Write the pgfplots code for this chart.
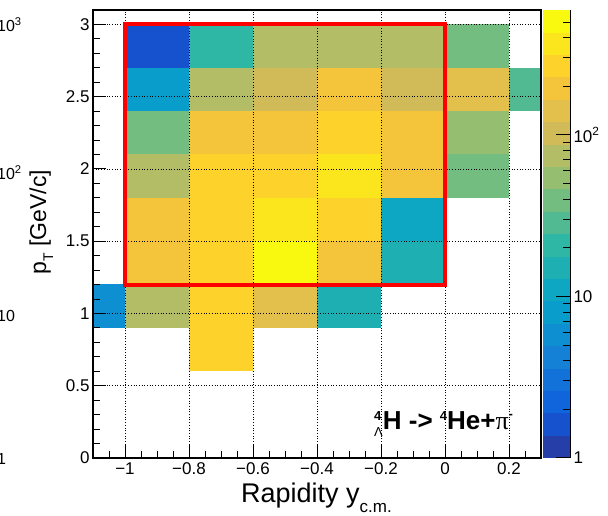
\documentclass[border=0pt]{standalone}
\usepackage{fontspec}
\setmainfont{Liberation Sans}
\newfontfamily\serifpi{Liberation Serif}
\usepackage{pgfplots}
\usepackage{pgfplotstable}
\pgfplotsset{compat=1.18}

\pgfdeclareplotmark{hcell}{\pgfpathrectangle{\pgfpoint{-32.2pt}{-21.85pt}}{\pgfpoint{64.4pt}{43.7pt}}\pgfusepathqfill}
\pgfdeclareplotmark{cbcell}{\pgfpathrectangle{\pgfpoint{-13.5pt}{-11.35pt}}{\pgfpoint{27pt}{22.7pt}}\pgfusepathqfill}

\pgfplotsset{
  colormap={bird20}{
    rgb=(0.1505,0.2413,0.6606)
    rgb=(0.0880,0.3225,0.8028)
    rgb=(0.0633,0.3914,0.8619)
    rgb=(0.0704,0.4455,0.8506)
    rgb=(0.0780,0.5041,0.8385)
    rgb=(0.0557,0.5601,0.8194)
    rgb=(0.0335,0.6161,0.8002)
    rgb=(0.0526,0.6561,0.7635)
    rgb=(0.1164,0.6870,0.7030)
    rgb=(0.1802,0.7178,0.6425)
    rgb=(0.3223,0.7306,0.5709)
    rgb=(0.4536,0.7423,0.5048)
    rgb=(0.5842,0.7461,0.4444)
    rgb=(0.7014,0.7395,0.3971)
    rgb=(0.8186,0.7328,0.3499)
    rgb=(0.8850,0.7528,0.2925)
    rgb=(0.9569,0.7745,0.2303)
    rgb=(0.9920,0.8231,0.1700)
    rgb=(0.9842,0.9032,0.1120)
    rgb=(0.9770,0.9770,0.0584)
  }
}

% bin centres (x: rapidity, y: pT) and bin contents
\pgfplotstableread{
x y z
-0.9 2.85 1.6
-0.7 2.85 21
-0.5 2.85 75
-0.3 2.85 75
-0.1 2.85 75
0.1 2.85 39
-0.9 2.55 8.0
-0.7 2.55 75
-0.5 2.55 103
-0.3 2.55 194
-0.1 2.55 103
0.1 2.55 141
0.3 2.55 29
-0.9 2.25 39
-0.7 2.25 194
-0.5 2.25 194
-0.3 2.25 267
-0.1 2.25 194
0.1 2.25 54
-0.9 1.95 75
-0.7 1.95 267
-0.5 1.95 267
-0.3 1.95 368
-0.1 1.95 194
0.1 1.95 39
-0.9 1.65 194
-0.7 1.65 267
-0.5 1.65 368
-0.3 1.65 267
-0.1 1.65 11
-0.9 1.35 194
-0.7 1.35 267
-0.5 1.35 506
-0.3 1.35 194
-0.1 1.35 15
-1.1 1.05 5.8
-0.9 1.05 75
-0.7 1.05 267
-0.5 1.05 141
-0.3 1.05 15
-0.7 0.75 267
}\histdata

% colour bar: 20 log-spaced contour bands between 1 and about 594
\pgfplotstableread{
b y
0 0.5
1 1.5
2 2.5
3 3.5
4 4.5
5 5.5
6 6.5
7 7.5
8 8.5
9 9.5
10 10.5
11 11.5
12 12.5
13 13.5
14 14.5
15 15.5
16 16.5
17 17.5
18 18.5
19 19.5
}\cbdata

\begin{document}
\begin{tikzpicture}
\useasboundingbox (0,0) rectangle (608pt,516pt);

\begin{axis}[
  at={(93pt,58pt)}, anchor=south west,
  scale only axis, width=448pt, height=448pt,
  xmin=-1.1, xmax=0.3, ymin=0, ymax=3.1,
  axis on top,
  clip marker paths=true,
  xtick={-1,-0.8,-0.6,-0.4,-0.2,0,0.2},
  xticklabels={−1,−0.8,−0.6,−0.4,−0.2,0,0.2},
  ytick={0,0.5,1,1.5,2,2.5,3},
  yticklabels={0,0.5,1,1.5,2,2.5,3},
  minor xtick={-1.05,-0.95,-0.9,-0.85,-0.75,-0.7,-0.65,-0.55,-0.5,-0.45,-0.35,-0.3,-0.25,-0.15,-0.1,-0.05,0.05,0.1,0.15,0.25},
  minor ytick={0.1,0.2,0.3,0.4,0.6,0.7,0.8,0.9,1.1,1.2,1.3,1.4,1.6,1.7,1.8,1.9,2.1,2.2,2.3,2.4,2.6,2.7,2.8,2.9},
  tickpos=left, tick align=inside,
  major tick length=13pt, minor tick length=6.5pt,
  tick style={black, line width=1pt},
  xmajorgrids, ymajorgrids,
  major grid style={black, line width=0.55pt, dash pattern=on 0.7pt off 2pt},
  axis line style={black, line width=1.6pt},
  ticklabel style={font=\fontsize{17}{17}\selectfont},
  xticklabel style={yshift=-1pt},
  colormap name=bird20,
  point meta min=0, point meta max=19,
]
\addplot[scatter, only marks, mark=hcell,
  scatter/use mapped color={draw=none, fill=mapped color},
  point meta={floor(log10(\thisrow{z})/0.138690)}]
  table[x=x, y=y] {\histdata};
\end{axis}

% red selection box
\begin{axis}[
  at={(93pt,58pt)}, anchor=south west,
  scale only axis, width=448pt, height=448pt,
  xmin=-1.1, xmax=0.3, ymin=0, ymax=3.1,
  hide axis,
]
\addplot[red, line width=4pt, line join=miter, mark=none]
  coordinates {(-1,1.2) (0,1.2) (0,3) (-1,3)} -- cycle;
\end{axis}

% colour bar
\begin{axis}[
  at={(543pt,58pt)}, anchor=south west,
  scale only axis, width=27pt, height=448pt,
  xmin=0, xmax=1, ymin=0, ymax=20,
  axis x line=none, axis y line*=right,
  axis on top, clip marker paths=true,
  ytick={0,7.2102,14.4204},
  yticklabels={1,10,10\textsuperscript{2}},
  minor ytick={2.1705,3.4402,4.3410,5.0398,5.6107,6.0934,6.5116,6.8804,9.3807,10.6504,11.5512,12.2500,12.8209,13.3036,13.7218,14.0906,16.5909,17.8606,18.7614,19.4602},
  ytick align=inside,
  major tick length=14pt, minor tick length=7pt,
  tick style={black, line width=1pt},
  axis line style={black, line width=1pt},
  ticklabel style={font=\fontsize{17}{17}\selectfont},
  colormap name=bird20,
  point meta min=0, point meta max=19,
]
\addplot[scatter, only marks, mark=cbcell,
  scatter/use mapped color={draw=none, fill=mapped color},
  point meta=explicit]
  table[x expr=0.5, y=y, meta=b] {\cbdata};
\end{axis}

% axis titles
\node[anchor=base west, inner sep=0, font=\fontsize{27}{27}\selectfont] at (241pt,13pt)
  {Rapidity y\raisebox{-10pt}{\fontsize{17}{17}\selectfont c.m.}};
\node[rotate=90, anchor=base, inner sep=0, font=\fontsize{23}{23}\selectfont] at (46pt,294pt)
  {p\raisebox{-7pt}{\fontsize{14}{14}\selectfont T} [GeV/c]};

% decay label
\node[anchor=base west, inner sep=0] at (374pt,86pt)
  {\fontsize{26}{26}\selectfont\bfseries
   \makebox[0pt][l]{\raisebox{9pt}{\fontsize{13}{13}\selectfont 4}}%
   \raisebox{-7pt}{\fontsize{13}{13}\selectfont\mdseries Λ}%
   H -> \raisebox{9pt}{\fontsize{13}{13}\selectfont 4}He+{\serifpi\mdseries π}\raisebox{11pt}{\fontsize{13}{13}\selectfont -}};

% labels of a neighbouring colour scale, cut by the left edge
\node[anchor=base west, inner sep=0, font=\fontsize{16}{16}\selectfont] at (-3pt,484pt) {10\textsuperscript{3}};
\node[anchor=base west, inner sep=0, font=\fontsize{16}{16}\selectfont] at (-3pt,336pt) {10\textsuperscript{2}};
\node[anchor=base west, inner sep=0, font=\fontsize{16}{16}\selectfont] at (-3pt,194pt) {10};
\node[anchor=base west, inner sep=0, font=\fontsize{16}{16}\selectfont] at (-3pt,51pt) {1};
\end{tikzpicture}
\end{document}
